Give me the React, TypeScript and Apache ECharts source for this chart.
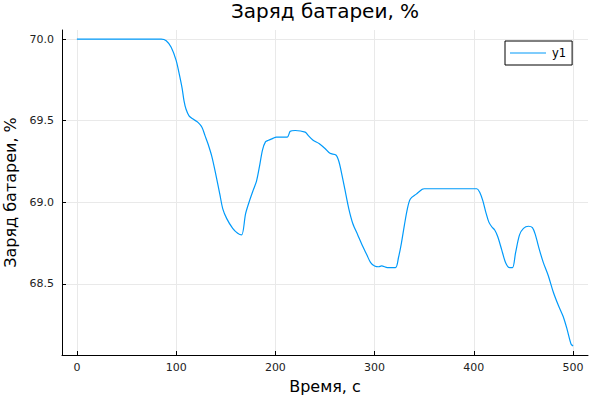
import React, { useEffect, useRef } from "react";
import * as echarts from "echarts";

const timeS: number[] = [0, 85, 90, 95, 100, 103, 106, 108, 110, 113, 117, 122, 126, 129, 132, 136, 140, 144, 147, 151, 157, 162, 166, 170, 174, 178, 181, 184, 187, 190, 193, 197, 201, 212, 215, 220, 230, 233, 238, 244, 250, 255, 261, 264, 267, 270, 274, 278, 283, 288, 292, 296, 300, 304, 307, 313, 321, 324, 327, 330, 333, 336, 342, 348, 350, 403, 406, 409, 412, 415, 418, 421, 424, 428, 432, 436, 439, 442, 446, 450, 455, 459, 462, 466, 470, 475, 480, 485, 490, 494, 498, 500];
const charge: number[] = [70.0, 70.0, 69.99, 69.95, 69.87, 69.79, 69.7, 69.62, 69.57, 69.53, 69.51, 69.49, 69.46, 69.41, 69.36, 69.28, 69.17, 69.05, 68.96, 68.9, 68.84, 68.81, 68.8, 68.93, 69.01, 69.08, 69.13, 69.22, 69.32, 69.37, 69.38, 69.39, 69.4, 69.4, 69.435, 69.44, 69.43, 69.41, 69.38, 69.36, 69.33, 69.3, 69.29, 69.25, 69.17, 69.08, 68.96, 68.87, 68.8, 68.73, 68.68, 68.63, 68.61, 68.605, 68.61, 68.6, 68.6, 68.66, 68.75, 68.86, 68.96, 69.02, 69.05, 69.08, 69.083, 69.083, 69.06, 69.01, 68.94, 68.88, 68.85, 68.83, 68.79, 68.71, 68.63, 68.6, 68.6, 68.69, 68.8, 68.84, 68.853, 68.845, 68.8, 68.71, 68.63, 68.55, 68.45, 68.37, 68.3, 68.22, 68.13, 68.12];
const xTicks: number[] = [0, 100, 200, 300, 400, 500];
const yTicks: number[] = [68.5, 69.0, 69.5, 70.0];
const seriesName = "y1";
const titleText = "Заряд батареи, %";
const xName = "Время, с";
const yName = "Заряд батареи, %";

const FONT = "DejaVu Sans";

export default function App() {
  const ref = useRef<HTMLDivElement>(null);
  useEffect(() => {
    if (!ref.current) return;
    const chart = echarts.init(ref.current, undefined, { renderer: "svg" });
    const data = timeS.map((t, i) => [t, charge[i]]);
    chart.setOption({
      animation: false,
      backgroundColor: "#fff",
      textStyle: { fontFamily: FONT },
      title: {
        text: titleText,
        left: 325,
        textAlign: "center",
        top: 1,
        padding: 0,
        textStyle: { fontFamily: FONT, fontSize: 20, fontWeight: "normal", color: "#000" },
      },
      legend: {
        left: 505,
        top: 41,
        padding: [6, 6, 6, 5],
        itemWidth: 36,
        itemHeight: 1,
        itemGap: 5,
        icon: "rect",
        borderColor: "#000",
        borderWidth: 1,
        borderRadius: 0,
        textStyle: { fontFamily: FONT, fontSize: 11.5, color: "#000", padding: [0, 0, 0, 1] },
        data: [seriesName],
      },
      grid: { left: 62, right: 12, top: 30, bottom: 45, containLabel: false, outerBoundsMode: "none" },
      xAxis: {
        type: "value",
        min: -15,
        max: 515,
        name: xName,
        nameLocation: "middle",
        nameGap: 23,
        nameTextStyle: { fontFamily: FONT, fontSize: 16, color: "#000" },
        axisLine: { show: true, onZero: false, lineStyle: { color: "#000", width: 1 } },
        axisTick: { show: true, inside: true, length: 4, customValues: xTicks, lineStyle: { color: "#000" } },
        axisLabel: { customValues: xTicks, margin: 7, fontFamily: FONT, fontSize: 11, color: "#222" },
        splitLine: { show: true, lineStyle: { color: "#e9e9e9", width: 1 } },
      },
      yAxis: {
        type: "value",
        min: 68.064,
        max: 70.056,
        name: yName,
        nameLocation: "middle",
        nameGap: 41,
        nameTextStyle: { fontFamily: FONT, fontSize: 16, color: "#000" },
        axisLine: { show: true, onZero: false, lineStyle: { color: "#000", width: 1 } },
        axisTick: { show: true, inside: true, length: 4, customValues: yTicks, lineStyle: { color: "#000" } },
        axisLabel: {
          customValues: yTicks,
          margin: 8,
          fontFamily: FONT,
          fontSize: 11,
          color: "#222",
          formatter: (v: number) => v.toFixed(1),
        },
        splitLine: { show: true, lineStyle: { color: "#e9e9e9", width: 1 } },
      },
      series: [
        {
          name: seriesName,
          type: "line",
          data,
          showSymbol: false,
          smooth: 0.3,
          lineStyle: { color: "#009AFA", width: 1.2 },
          itemStyle: { color: "#009AFA" },
        },
      ],
    });
    return () => chart.dispose();
  }, []);
  return <div ref={ref} style={{ width: 600, height: 400, position: "absolute", left: 0, top: 0 }} />;
}
